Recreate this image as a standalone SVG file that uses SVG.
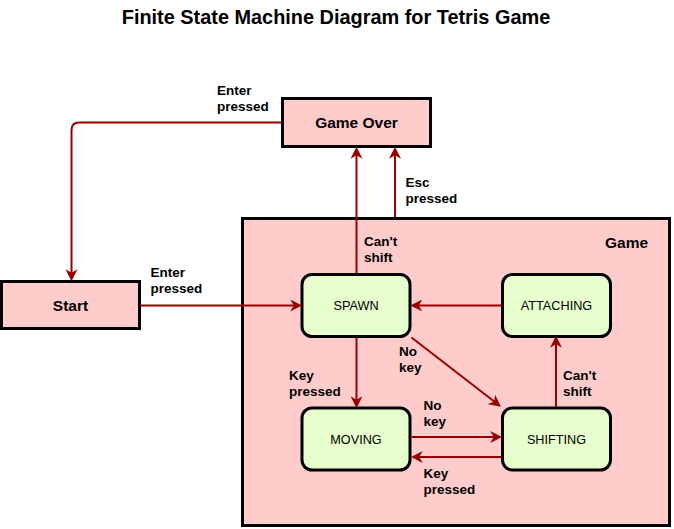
<svg xmlns="http://www.w3.org/2000/svg" width="674" height="529" viewBox="0 0 674 529">
<style>
text{font-family:"Liberation Sans",Arial,sans-serif;fill:#000}
.title{font-size:19.9px;font-weight:bold}
.box{fill:#FFCCCC;stroke:#000;stroke-width:3}
.state{fill:#E6FFCC;stroke:#000;stroke-width:3}
.nl{font-size:15.5px;font-weight:bold}
.sl{font-size:12.7px}
.el{font-size:13.5px;font-weight:bold}
.edge{fill:none;stroke:#990000;stroke-width:2;marker-end:url(#arr)}
</style>
<defs>
<marker id="arr" markerUnits="userSpaceOnUse" markerWidth="12" markerHeight="12" refX="4" refY="5" orient="auto" viewBox="0 0 10 10">
<path d="M0,0 L10,5 L0,10 L3,5 z" fill="#990000"/>
</marker>
</defs>
<rect width="674" height="529" fill="#fff"/>
<text class="title" x="336" y="24" text-anchor="middle">Finite State Machine Diagram for Tetris Game</text>
<g id="game">
<rect class="box" x="242.5" y="218.5" width="427" height="307"/>
<text class="nl" x="605" y="248">Game</text>
</g>
<g id="gameover">
<rect class="box" x="282.5" y="98.5" width="148" height="48"/>
<text class="nl" x="356.5" y="128" text-anchor="middle">Game Over</text>
</g>
<g id="start">
<rect class="box" x="1.5" y="281.5" width="138" height="47"/>
<text class="nl" x="70.5" y="310.5" text-anchor="middle">Start</text>
</g>
<g id="spawn">
<rect class="state" x="302" y="274.5" width="108" height="62" rx="10"/>
<text class="sl" x="356" y="310" text-anchor="middle">SPAWN</text>
</g>
<g id="attaching">
<rect class="state" x="502.5" y="274.5" width="108" height="62" rx="10"/>
<text class="sl" x="556.5" y="310" text-anchor="middle">ATTACHING</text>
</g>
<g id="moving">
<rect class="state" x="302" y="408" width="108" height="62" rx="10"/>
<text class="sl" x="356" y="443.5" text-anchor="middle">MOVING</text>
</g>
<g id="shifting">
<rect class="state" x="502.5" y="408" width="108" height="62" rx="10"/>
<text class="sl" x="556.5" y="443.5" text-anchor="middle">SHIFTING</text>
</g>
<g id="connectors">
<path class="edge" d="M281,122.5 H79 Q71.5,122.5 71.5,130 V274"/>
<path class="edge" d="M356.5,273 V154"/>
<path class="edge" d="M395,217 V154"/>
<path class="edge" d="M141,305.5 H295"/>
<path class="edge" d="M501,305.5 H417.5"/>
<path class="edge" d="M356.5,338 V401"/>
<path class="edge" d="M411.5,337.5 L495.2,402.3"/>
<path class="edge" d="M411.5,437 H495"/>
<path class="edge" d="M501,457 H418"/>
<path class="edge" d="M556,407 V343"/>
</g>
<g id="labels">
<text class="el" x="217" y="95">Enter<tspan x="217" dy="16">pressed</tspan></text>
<text class="el" x="405.5" y="187">Esc<tspan x="405.5" dy="16">pressed</tspan></text>
<text class="el" x="364" y="246">Can't<tspan x="364" dy="16">shift</tspan></text>
<text class="el" x="150.5" y="277">Enter<tspan x="150.5" dy="16">pressed</tspan></text>
<text class="el" x="399" y="356">No<tspan x="399" dy="16">key</tspan></text>
<text class="el" x="289" y="380">Key<tspan x="289" dy="16">pressed</tspan></text>
<text class="el" x="563" y="379.5">Can't<tspan x="563" dy="16">shift</tspan></text>
<text class="el" x="423.5" y="410">No<tspan x="423.5" dy="16">key</tspan></text>
<text class="el" x="423.5" y="478">Key<tspan x="423.5" dy="16">pressed</tspan></text>
</g>
</svg>
